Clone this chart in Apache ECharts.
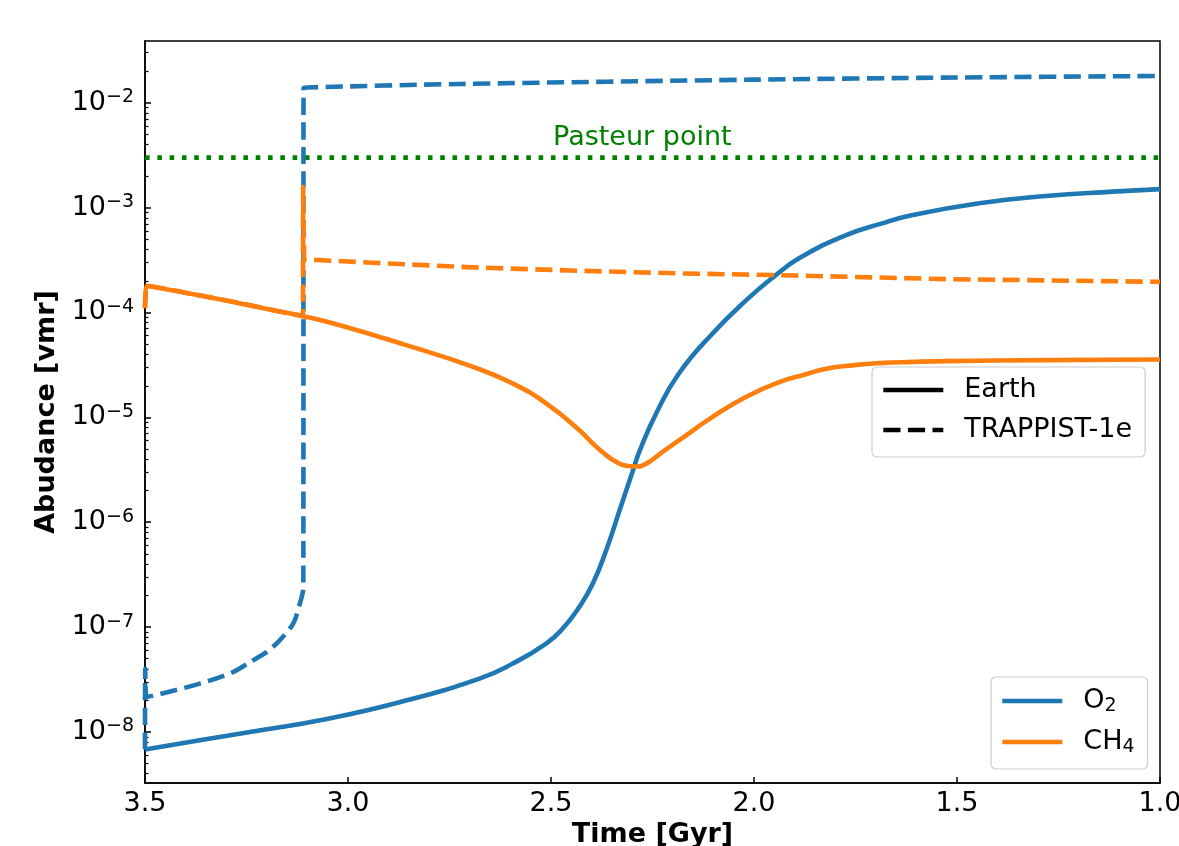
<!DOCTYPE html>
<html>
<head>
<meta charset="utf-8">
<script src="https://cdn.jsdelivr.net/npm/echarts@6/dist/echarts.min.js"></script>
<style>
html,body{margin:0;padding:0;background:#fff;}
#chart{width:1179px;height:846px;}
</style>
</head>
<body>
<div id="chart"></div>
<script>
// ---- data ----
const earthO2T = [3.5, 3.365, 3.2, 3.069, 2.873, 2.676, 2.594, 2.512, 2.471, 2.43, 2.397, 2.364, 2.331, 2.298, 2.282, 2.241, 2.185, 2.102, 2.019, 1.954, 1.888, 1.773, 1.691, 1.609, 1.445, 1.281, 1.117, 1.0];
const earthO2V = [6.8e-9, 8.34e-9, 1.06e-8, 1.29e-8, 1.92e-8, 3.23e-8, 4.49e-8, 6.97e-8, 9.69e-8, 1.56e-7, 2.60e-7, 5.41e-7, 1.30e-6, 3.13e-6, 4.76e-6, 1.09e-5, 2.62e-5, 6.31e-5, 1.31e-4, 2.15e-4, 3.30e-4, 5.47e-4, 6.96e-4, 8.49e-4, 1.10e-3, 1.29e-3, 1.42e-3, 1.50e-3];

const earthCH4T = [3.5, 3.497, 3.348, 3.184, 3.110, 3.020, 2.856, 2.692, 2.594, 2.512, 2.430, 2.397, 2.364, 2.342, 2.315, 2.29, 2.265, 2.225, 2.184, 2.102, 2.019, 1.9375, 1.876, 1.822, 1.753, 1.691, 1.610, 1.527, 1.281, 1.0];
const earthCH4V = [1.1e-4, 1.8e-4, 1.41e-4, 1.05e-4, 9.23e-5, 7.57e-5, 4.88e-5, 3.03e-5, 2.10e-5, 1.36e-5, 7.55e-6, 5.63e-6, 4.36e-6, 3.82e-6, 3.46e-6, 3.40e-6, 3.62e-6, 4.69e-6, 6.06e-6, 1.01e-5, 1.57e-5, 2.17e-5, 2.55e-5, 2.91e-5, 3.15e-5, 3.29e-5, 3.38e-5, 3.44e-5, 3.51e-5, 3.56e-5];

const trapO2T = [3.5, 3.4995, 3.496, 3.365, 3.283, 3.242, 3.2, 3.168, 3.135, 3.12, 3.110, 3.1095, 3.1, 2.725, 2.0, 1.5, 1.0];
const trapO2V = [6.8e-9, 4.0e-8, 2.16e-8, 2.89e-8, 3.73e-8, 4.62e-8, 5.79e-8, 7.48e-8, 1.08e-7, 1.6e-7, 2.42e-7, 1.38e-2, 1.40e-2, 1.51e-2, 1.66e-2, 1.74e-2, 1.80e-2];

const trapCH4T = [3.5, 3.497, 3.42, 3.348, 3.26, 3.184, 3.111, 3.1105, 3.108, 2.938, 2.692, 2.430, 2.184, 1.937, 1.527, 1.0];
const trapCH4V = [1.1e-4, 1.8e-4, 1.60e-4, 1.41e-4, 1.22e-4, 1.05e-4, 9.2e-5, 1.57e-3, 3.21e-4, 2.98e-4, 2.69e-4, 2.50e-4, 2.36e-4, 2.27e-4, 2.08e-4, 1.96e-4];

const pasteurT = [3.5, 1.0];
const pasteurLevel = 3e-3;
const pasteurText = 'Pasteur point';
const pasteurTextT = 2.275;

const xTickMin = 1.0, xTickMax = 3.5, xTickStep = 0.5;
const yMin = 3.26e-9, yMax = 0.0388;
const yMajorTicks = [1e-8, 1e-7, 1e-6, 1e-5, 1e-4, 1e-3, 1e-2];
const yMinorMult = [2, 3, 4, 5, 6, 7, 8, 9];
const yMinorExps = [-9, -8, -7, -6, -5, -4, -3, -2];

const styleLegendNames = ['Earth', 'TRAPPIST-1e'];
const speciesLegendNames = ['O2', 'CH4'];

// ---- build ----
const zip = (a, b) => a.map((v, i) => [v, b[i]]);
const yMinorTicks = [];
yMinorExps.forEach(e => yMinorMult.forEach(m => {
  const v = m * Math.pow(10, e);
  if (v >= yMin && v <= yMax) yMinorTicks.push(v);
}));

const BLUE = '#1f77b4', ORANGE = '#ff7f0e', GREEN = '#008000';
const LW = 4.6;
const DASH = [17.2, 7.4];
const DOT = [4.6, 7.7];
const FONT = 'DejaVu Sans';

function lineSeries(name, data, color, type, smooth) {
  return {
    name: name, type: 'line', data: data, symbol: 'none', showSymbol: false,
    animation: false, silent: true, smooth: smooth || false,
    lineStyle: { color: color, width: LW, type: type, cap: 'butt', join: 'round' },
    itemStyle: { color: color }
  };
}

const chart = echarts.init(document.getElementById('chart'), null, { renderer: 'canvas' });

const legendCommon = {
  orient: 'vertical', itemWidth: 60, itemHeight: 14, selectedMode: false,
  backgroundColor: 'rgba(255,255,255,0.8)', borderColor: '#cccccc', borderWidth: 1.2, borderRadius: 5,
  itemStyle: { opacity: 0 },
  lineStyle: { width: LW }
};

const option = {
  animation: false,
  backgroundColor: '#fff',
  textStyle: { fontFamily: FONT },
  grid: { left: 145, right: 19, top: 41, bottom: 63, outerBoundsMode: 'none', containLabel: false,
    show: true, borderColor: '#000', borderWidth: 1.5, backgroundColor: 'transparent' },
  xAxis: {
    type: 'value', inverse: true, min: xTickMin, max: xTickMax, interval: xTickStep,
    name: 'Time [Gyr]', nameLocation: 'middle', nameGap: 36,
    nameTextStyle: { fontFamily: FONT, fontSize: 27, fontWeight: 'bold', color: '#000' },
    axisLine: { show: true, lineStyle: { color: '#000', width: 1.5 } },
    axisTick: { show: true, inside: true, length: 6, lineStyle: { color: '#000', width: 1.5 } },
    axisLabel: { show: true, margin: 7, fontSize: 27, color: '#000', fontFamily: FONT, showMinLabel: true, showMaxLabel: true,
      hideOverlap: false, formatter: v => v.toFixed(1) },
    splitLine: { show: false }
  },
  yAxis: [
    {
      type: 'log', logBase: 10, min: yMin, max: yMax, position: 'left',
      name: 'Abudance [vmr]', nameLocation: 'middle', nameGap: 83,
      nameTextStyle: { fontFamily: FONT, fontSize: 27, fontWeight: 'bold', color: '#000' },
      axisLine: { show: true, lineStyle: { color: '#000', width: 1.5 } },
      axisTick: { show: true, inside: true, length: 6, customValues: yMajorTicks, lineStyle: { color: '#000', width: 1.5 } },
      axisLabel: {
        show: true, margin: 11, customValues: yMajorTicks, color: '#000', fontFamily: FONT,
        formatter: v => {
          const e = Math.round(Math.log10(v));
          return '{b|10}{s|\u2212' + Math.abs(e) + '}';
        },
        rich: {
          b: { fontSize: 27, lineHeight: 30, color: '#000', fontFamily: FONT },
          s: { fontSize: 19, lineHeight: 16, verticalAlign: 'top', color: '#000', fontFamily: FONT }
        }
      },
      splitLine: { show: false }
    },
    {
      type: 'log', logBase: 10, min: yMin, max: yMax, position: 'left', offset: 0,
      axisLine: { show: false },
      axisTick: { show: true, inside: true, length: 3.5, customValues: yMinorTicks, lineStyle: { color: '#000', width: 1.2 } },
      axisLabel: { show: false },
      splitLine: { show: false }
    }
  ],
  legend: [
    Object.assign({}, legendCommon, {
      data: styleLegendNames, left: 872, top: 367,
      padding: [8, 13, 12, 9], itemGap: 10,
      textStyle: { fontSize: 27, lineHeight: 30, color: '#000', fontFamily: FONT, padding: [0, 0, 0, 16] }
    }),
    Object.assign({}, legendCommon, {
      data: speciesLegendNames, left: 991, top: 677,
      padding: [9, 13, 12, 9], itemGap: 11,
      formatter: n => n === 'O2' ? '{n|O}{d|2}' : '{n|CH}{d|4}',
      textStyle: {
        fontSize: 27, lineHeight: 30, color: '#000', fontFamily: FONT, padding: [0, 0, 0, 16],
        rich: {
          n: { fontSize: 27, lineHeight: 30, color: '#000', fontFamily: FONT },
          d: { fontSize: 19, lineHeight: 16, verticalAlign: 'bottom', color: '#000', fontFamily: FONT }
        }
      }
    })
  ],
  series: [
    lineSeries('Pasteur point', pasteurT.map(t => [t, pasteurLevel]), GREEN, DOT),
    {
      name: 'Pasteur label', type: 'scatter', data: [[pasteurTextT, pasteurLevel]], symbol: 'circle', symbolSize: 1,
      silent: true, animation: false, itemStyle: { color: 'rgba(0,0,0,0)', opacity: 1 },
      label: { show: true, position: 'top', distance: 6, formatter: pasteurText, color: GREEN, opacity: 1,
        fontSize: 27, lineHeight: 27, fontFamily: FONT }
    },
    lineSeries('O2', zip(earthO2T, earthO2V), BLUE, 'solid', 0.5),
    lineSeries('CH4', zip(earthCH4T, earthCH4V), ORANGE, 'solid', 0.5),
    lineSeries('O2 TRAPPIST-1e', zip(trapO2T, trapO2V), BLUE, DASH, 0.3),
    lineSeries('CH4 TRAPPIST-1e', zip(trapCH4T, trapCH4V), ORANGE, DASH),
    lineSeries('Earth', [], '#000', 'solid'),
    lineSeries('TRAPPIST-1e', [], '#000', DASH)
  ]
};
chart.setOption(option);
</script>
</body>
</html>
